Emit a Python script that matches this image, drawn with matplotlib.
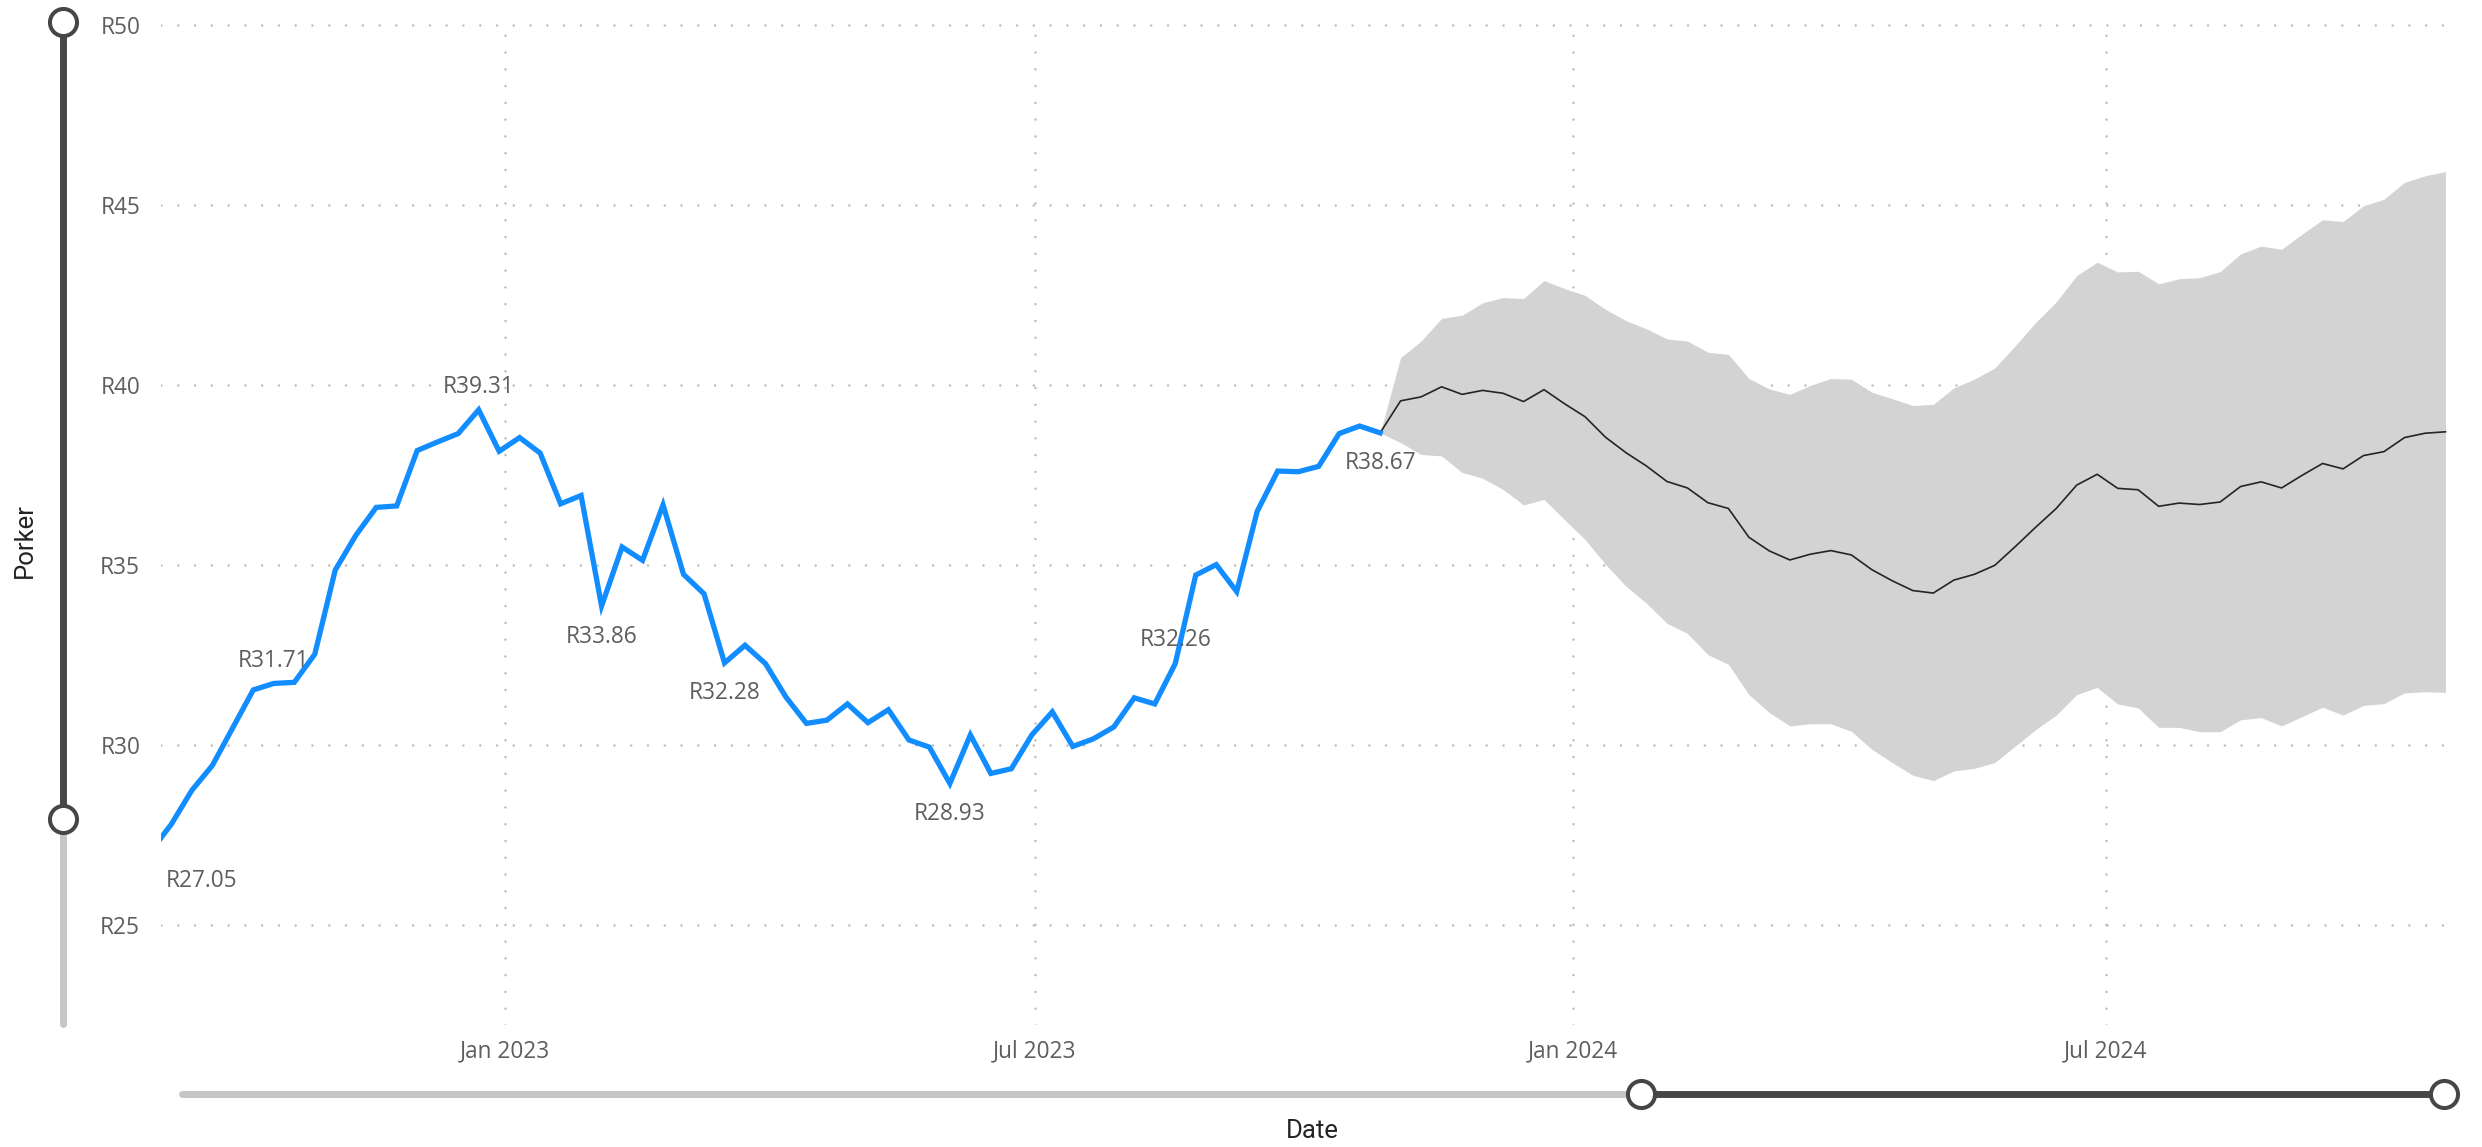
import numpy as np
import pandas as pd
import matplotlib
matplotlib.use("Agg")
import matplotlib.pyplot as plt
import matplotlib.dates as mdates
from matplotlib.lines import Line2D

# ---------------- data ----------------
actual_dates = pd.date_range("2022-09-02", periods=61, freq="7D")
actual = [27.05, 27.80, 28.74, 29.43, 30.48, 31.53, 31.71, 31.74, 32.52, 34.86,
          35.82, 36.60, 36.64, 38.18, 38.42, 38.65, 39.31, 38.16, 38.54, 38.11,
          36.70, 36.93, 33.86, 35.50, 35.13, 36.67, 34.74, 34.20, 32.28, 32.77,
          32.26, 31.33, 30.60, 30.69, 31.14, 30.62, 30.98, 30.14, 29.94, 28.93,
          30.28, 29.21, 29.34, 30.28, 30.92, 29.96, 30.17, 30.50, 31.31, 31.14,
          32.26, 34.72, 35.01, 34.26, 36.49, 37.61, 37.59, 37.74, 38.65, 38.86,
          38.67]

forecast_dates = pd.date_range("2023-11-03", periods=52, freq="7D")
forecast = [39.56, 39.67, 39.95, 39.74, 39.85, 39.77, 39.54, 39.87, 39.48, 39.12,
            38.55, 38.12, 37.75, 37.32, 37.14, 36.73, 36.57, 35.77, 35.39, 35.14,
            35.30, 35.40, 35.28, 34.87, 34.56, 34.29, 34.22, 34.58, 34.74, 34.99,
            35.51, 36.05, 36.57, 37.22, 37.52, 37.13, 37.09, 36.63, 36.72, 36.68,
            36.75, 37.18, 37.31, 37.14, 37.49, 37.82, 37.67, 38.04, 38.15, 38.54,
            38.66, 38.70]
upper = [40.76, 41.22, 41.85, 41.94, 42.28, 42.43, 42.40, 42.90, 42.68, 42.49,
         42.10, 41.79, 41.56, 41.28, 41.22, 40.91, 40.85, 40.18, 39.89, 39.74,
         39.99, 40.18, 40.16, 39.80, 39.62, 39.43, 39.46, 39.92, 40.16, 40.47,
         41.09, 41.74, 42.31, 43.04, 43.41, 43.14, 43.16, 42.81, 42.95, 42.98,
         43.15, 43.64, 43.86, 43.77, 44.19, 44.59, 44.54, 44.98, 45.16, 45.63,
         45.81, 45.93]
lower = [38.40, 38.07, 38.03, 37.57, 37.41, 37.10, 36.67, 36.82, 36.26, 35.71,
         35.02, 34.41, 33.94, 33.38, 33.10, 32.51, 32.24, 31.40, 30.90, 30.53,
         30.59, 30.59, 30.38, 29.88, 29.51, 29.16, 29.01, 29.28, 29.35, 29.51,
         29.97, 30.43, 30.83, 31.40, 31.60, 31.14, 31.03, 30.49, 30.49, 30.37,
         30.37, 30.70, 30.76, 30.53, 30.79, 31.05, 30.83, 31.10, 31.15, 31.45,
         31.48, 31.46]

label_dates = ["2022-09-02", "2022-10-14", "2022-12-23", "2023-02-03",
               "2023-03-17", "2023-06-02", "2023-08-18", "2023-10-27"]
label_texts = ["R27.05", "R31.71", "R39.31", "R33.86",
               "R32.28", "R28.93", "R32.26", "R38.67"]

y_ticks = [25, 30, 35, 40, 45, 50]
x_tick_dates = ["2023-01-01", "2023-07-01", "2024-01-01", "2024-07-01"]
x_tick_labels = ["Jan 2023", "Jul 2023", "Jan 2024", "Jul 2024"]

# ---------------- figure ----------------
W, H = 2482, 1147
fig = plt.figure(figsize=(W / 100, H / 100), dpi=100)
fig.patch.set_facecolor("white")

FONT = ["Open Sans", "DejaVu Sans"]
TITLE_FONT = ["Roboto", "DejaVu Sans"]
TXT = "#605E5C"

def fx(px):
    return px / W

def fy(py):
    return 1 - py / H

ax_left, ax_right, ax_top, ax_bot = 161, 2455, 20, 1025
ax = fig.add_axes([fx(ax_left), fy(ax_bot), (ax_right - ax_left) / W, (ax_bot - ax_top) / H])

base = mdates.date2num(np.datetime64("2023-01-01"))
ax.set_xlim(base - 117.53, base + 666.25)
ax.set_ylim(22.222, 50.139)

for s in ax.spines.values():
    s.set_visible(False)

grid_kw = dict(color="#BDBBB9", linewidth=1.8, linestyle=(0, (0.01, 6.7)),
               dash_capstyle="round")
for v in y_ticks:
    ax.axhline(v, zorder=0, **grid_kw)
for d in x_tick_dates:
    ax.axvline(mdates.date2num(np.datetime64(d)), zorder=0, **grid_kw)

# band + forecast
fd = [actual_dates[-1]] + list(forecast_dates)
ax.fill_between(fd, [actual[-1]] + upper, [actual[-1]] + lower,
                color="#D3D3D3", linewidth=0, zorder=1)
ax.plot(fd, [actual[-1]] + forecast, color="#252423", linewidth=1.2, zorder=2)
ax.plot(actual_dates, actual, color="#118DFF", linewidth=3.8,
        solid_joinstyle="miter", zorder=3)

# data labels
offsets = {"R27.05": (51, -30), "R31.71": (0, 22), "R39.31": (0, 23),
           "R33.86": (0, -31), "R32.28": (0, -30), "R28.93": (0, -30),
           "R32.26": (0, 24), "R38.67": (0, -30)}
val_by_date = dict(zip(actual_dates, actual))
for d, t in zip(label_dates, label_texts):
    dd = pd.Timestamp(d)
    ax.annotate(t, xy=(dd, val_by_date[dd]), xytext=offsets[t],
                textcoords="offset pixels", ha="center", va="center",
                fontsize=16.3, color=TXT, family=FONT, annotation_clip=False,
                zorder=4)

# ticks
ax.set_yticks(y_ticks)
ax.set_yticklabels([f"R{v}" for v in y_ticks])
ax.set_xticks([mdates.date2num(np.datetime64(d)) for d in x_tick_dates])
ax.set_xticklabels(x_tick_labels)
ax.tick_params(axis="both", length=0, labelsize=16.3, labelcolor=TXT)
ax.tick_params(axis="y", pad=15)
ax.tick_params(axis="x", pad=10)
for lab in ax.get_xticklabels() + ax.get_yticklabels():
    lab.set_family(FONT)

# axis titles
fig.text(fx(24.5), fy(540), "Porker", rotation=90, ha="center", va="center",
         fontsize=18.5, color="#252423", family=TITLE_FONT)
fig.text(fx(1312), fy(1131), "Date", ha="center", va="center",
         fontsize=18.5, color="#252423", family=TITLE_FONT)

# sliders
DARK = "#484644"
LIGHT = "#C8C6C4"
lw = 5.0
fig.add_artist(Line2D([fx(63), fx(63)], [fy(819), fy(1024)], color=LIGHT, lw=lw,
                      solid_capstyle="round", transform=fig.transFigure))
fig.add_artist(Line2D([fx(63), fx(63)], [fy(22), fy(819)], color=DARK, lw=lw,
                      solid_capstyle="butt", transform=fig.transFigure))
fig.add_artist(Line2D([fx(182), fx(1641)], [fy(1094), fy(1094)], color=LIGHT, lw=lw,
                      solid_capstyle="round", transform=fig.transFigure))
fig.add_artist(Line2D([fx(1641), fx(2444)], [fy(1094), fy(1094)], color=DARK, lw=lw,
                      solid_capstyle="butt", transform=fig.transFigure))
for (px, py) in [(63, 22), (63, 819), (1641, 1094), (2444, 1094)]:
    fig.add_artist(Line2D([fx(px)], [fy(py)], marker="o", markersize=19.5,
                          markerfacecolor="white", markeredgecolor=DARK,
                          markeredgewidth=2.9, linestyle="none",
                          transform=fig.transFigure))

fig.savefig("out.png", dpi=100, facecolor="white")
